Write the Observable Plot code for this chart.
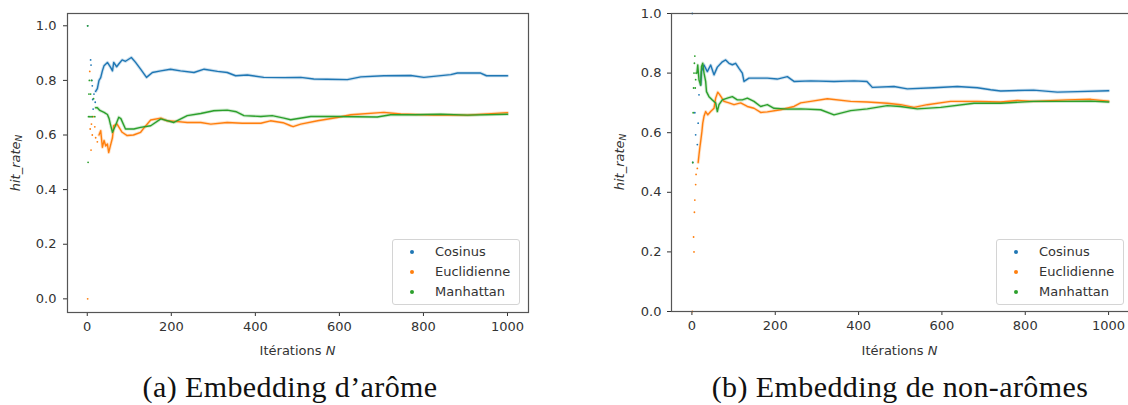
<!DOCTYPE html>
<html>
<head>
<meta charset="utf-8">
<script src="https://cdn.jsdelivr.net/npm/d3@7"></script>
<script src="https://cdn.jsdelivr.net/npm/@observablehq/plot@0.6"></script>
<style>
  html, body { margin: 0; padding: 0; background: #fff; overflow: hidden; }
  #root { position: relative; width: 1128px; height: 405px; overflow: hidden; font-family: "DejaVu Sans", sans-serif; color: #333; }
  .legend { position: absolute; box-sizing: border-box; border: 1px solid #d4d4d4; border-radius: 3px; background: rgba(255,255,255,0.8); }
  .legend .row { position: absolute; left: 0; font-size: 13px; line-height: 13px; color: #333; white-space: nowrap; }
  .legend .dot { position: absolute; width: 4px; height: 4px; border-radius: 50%; }
  .caption { position: absolute; font-family: "Liberation Serif", serif; font-size: 30px; line-height: 30px; letter-spacing: 0.4px; color: #111; white-space: nowrap; transform: translateX(-50%); }
  .xlabel { position: absolute; font-size: 13px; line-height: 13px; transform: translateX(-50%); white-space: nowrap; color: #333; }
  .ylabel { position: absolute; font-size: 13px; line-height: 13px; white-space: nowrap; color: #333; transform: translate(-50%, -50%) rotate(-90deg); }
</style>
</head>
<body>
<div id="root"></div>
<script>
// ---------- data ----------
const seriesNames = ["Cosinus", "Euclidienne", "Manhattan"];
const seriesColors = ["#1f77b4", "#ff7f0e", "#2ca02c"];
const captions = ["(a) Embedding d\u2019arôme", "(b) Embedding de non-arômes"];
const xTicks = [0, 200, 400, 600, 800, 1000];
const yTicks = [0, 0.2, 0.4, 0.6, 0.8, 1.0];

// Panel (a): [N, hit_rate]
const aCosEarly = [[1,1.0],[8,0.875],[9,0.856],[11,0.80],[12,0.78],[13,0.73],[14,0.695],[16,0.75],[19,0.72]];
const aCosTrend = [[20,0.76],[24,0.77],[28,0.80],[32,0.81],[36,0.835],[40,0.854],[48,0.866],[56,0.847],[60,0.835],[63,0.866],[70,0.85],[75,0.86],[83,0.875],[91,0.87],[105,0.884],[115,0.866],[127,0.841],[141,0.811],[155,0.829],[175,0.835],[198,0.841],[222,0.835],[254,0.829],[278,0.841],[310,0.833],[333,0.829],[353,0.817],[381,0.82],[420,0.811],[468,0.81],[508,0.811],[539,0.805],[571,0.804],[619,0.803],[651,0.813],[706,0.817],[770,0.818],[801,0.811],[865,0.821],[881,0.827],[936,0.827],[950,0.817],[1000,0.817]];
const aEucEarly = [[1,0.0],[6,0.833],[7,0.622],[9,0.545],[10,0.64],[12,0.60],[14,0.667],[18,0.63],[20,0.59],[24,0.575]];
const aEucTrend = [[28,0.60],[32,0.616],[36,0.555],[40,0.58],[44,0.56],[48,0.567],[51,0.536],[55,0.56],[60,0.59],[63,0.634],[71,0.64],[83,0.61],[95,0.598],[110,0.60],[127,0.61],[135,0.626],[151,0.655],[175,0.662],[190,0.652],[210,0.65],[238,0.646],[270,0.646],[294,0.64],[333,0.646],[369,0.643],[413,0.643],[436,0.652],[466,0.645],[484,0.634],[490,0.631],[508,0.64],[548,0.652],[595,0.664],[627,0.674],[706,0.683],[746,0.677],[825,0.673],[905,0.673],[1000,0.682]];
const aManEarly = [[1,1.0],[2,0.5],[3,0.667],[4,0.75],[5,0.8],[6,0.667],[8,0.75],[9,0.667],[10,0.8],[12,0.667],[15,0.733],[18,0.667]];
const aManTrend = [[20,0.70],[24,0.70],[30,0.69],[40,0.683],[48,0.675],[52,0.66],[55,0.64],[60,0.61],[67,0.634],[75,0.665],[80,0.66],[91,0.622],[111,0.622],[127,0.628],[151,0.634],[175,0.659],[206,0.646],[238,0.671],[270,0.679],[301,0.689],[333,0.691],[355,0.685],[373,0.671],[413,0.668],[440,0.671],[468,0.662],[484,0.656],[532,0.668],[587,0.668],[690,0.666],[722,0.674],[780,0.674],[841,0.676],[905,0.673],[1000,0.676]];

// Panel (b)
const bCosEarly = [[1,1.0],[2,0.5],[7,0.667],[9,0.593],[13,0.56],[15,0.632],[17,0.727]];
const bCosTrend = [[21,0.76],[23,0.805],[29,0.827],[37,0.805],[45,0.827],[53,0.794],[61,0.82],[73,0.838],[81,0.844],[89,0.833],[97,0.828],[105,0.833],[113,0.816],[121,0.80],[125,0.772],[137,0.783],[157,0.783],[181,0.783],[205,0.78],[229,0.788],[245,0.772],[285,0.774],[341,0.772],[389,0.774],[420,0.772],[433,0.752],[485,0.755],[517,0.747],[581,0.751],[637,0.755],[685,0.751],[717,0.744],[741,0.740],[820,0.743],[877,0.736],[925,0.738],[1000,0.741]];
const bEucEarly = [[1,0.0],[4,0.25],[5,0.2],[6,0.333],[7,0.374],[9,0.426],[10,0.46],[13,0.48]];
const bEucTrend = [[15,0.50],[17,0.526],[19,0.55],[21,0.571],[24,0.604],[26,0.632],[29,0.655],[33,0.671],[38,0.66],[45,0.671],[53,0.682],[57,0.716],[62,0.736],[67,0.727],[77,0.705],[89,0.70],[101,0.694],[117,0.70],[133,0.688],[149,0.682],[165,0.668],[181,0.67],[213,0.677],[245,0.688],[261,0.70],[285,0.705],[325,0.714],[381,0.705],[421,0.703],[469,0.699],[501,0.694],[533,0.685],[565,0.694],[621,0.705],[685,0.705],[741,0.703],[781,0.708],[820,0.705],[901,0.710],[957,0.712],[1000,0.706]];
const bManEarly = [[2,0.5],[3,0.667],[4,0.75],[5,0.8],[6,0.833],[7,0.857],[8,0.75],[9,0.778],[10,0.8]];
const bManTrend = [[12,0.80],[14,0.827],[17,0.777],[21,0.76],[23,0.822],[26,0.833],[29,0.80],[33,0.772],[35,0.738],[41,0.721],[49,0.71],[57,0.70],[61,0.671],[65,0.694],[73,0.71],[85,0.716],[97,0.721],[109,0.71],[121,0.71],[133,0.716],[149,0.705],[165,0.688],[181,0.694],[197,0.682],[229,0.679],[261,0.68],[309,0.677],[341,0.66],[381,0.674],[421,0.68],[469,0.691],[500,0.688],[541,0.68],[597,0.685],[677,0.699],[741,0.699],[820,0.705],[901,0.705],[957,0.706],[1000,0.703]];

// ---------- build ----------
function toRows(pairs, name) { return pairs.map(([n, v]) => ({n, v, s: name})); }

const panels = [
  {
    early: [aCosEarly, aEucEarly, aManEarly],
    trend: [aCosTrend, aEucTrend, aManTrend],
    left: 0, width: 540, mLeft: 67, mRight: 12, mTop: 13, mBottom: 28,
    xDomain: [-47, 1050], yDomain: [-0.05, 1.045], yPad: 7,
    caption: captions[0], capX: 290, plotCx: 297.5, ylabelX: 17, legendX: 392
  },
  {
    early: [bCosEarly, bEucEarly, bManEarly],
    trend: [bCosTrend, bEucTrend, bManTrend],
    left: 600, width: 560, mLeft: 71, mRight: 0, mTop: 13, mBottom: 29,
    xDomain: [-49, 1124.6], yDomain: [0, 1], yPad: 6,
    caption: captions[1], capX: 900, plotCx: 899.5, ylabelX: 621, legendX: 996
  }
];

const root = document.getElementById("root");
const H = 340;

for (const p of panels) {
  const early = p.early.flatMap((arr, i) => toRows(arr, seriesNames[i]));
  const trendRows = p.trend.flatMap((arr, i) => toRows(arr, seriesNames[i]));
  const chart = Plot.plot({
    width: p.width, height: H,
    marginLeft: p.mLeft, marginRight: p.mRight, marginTop: p.mTop, marginBottom: p.mBottom,
    style: {fontFamily: "DejaVu Sans, sans-serif", fontSize: "13px", color: "#333", background: "transparent", maxWidth: "none"},
    x: {domain: p.xDomain, ticks: xTicks, tickSize: 4, tickPadding: 5, label: null, tickFormat: d3.format("d")},
    y: {domain: p.yDomain, ticks: yTicks, tickSize: 4, tickPadding: p.yPad, label: null, tickFormat: d3.format(".1f")},
    color: {domain: seriesNames, range: seriesColors},
    marks: [
      Plot.line(trendRows, {x: "n", y: "v", z: "s", stroke: "s", strokeWidth: 3.2, strokeOpacity: 0.22, strokeLinejoin: "round"}),
      Plot.line(trendRows, {x: "n", y: "v", z: "s", stroke: "s", strokeWidth: 1.4, strokeLinejoin: "round"}),
      Plot.dot(early, {x: "n", y: "v", fill: "s", r: 0.9}),
      Plot.frame({stroke: "#555", strokeWidth: 1.2})
    ]
  });
  chart.style.position = "absolute";
  chart.style.left = p.left + "px";
  chart.style.top = "0px";
  root.appendChild(chart);

  const plotCy = p.mTop + (H - p.mTop - p.mBottom) / 2;

  // x label
  const xl = document.createElement("div");
  xl.className = "xlabel";
  xl.style.left = p.plotCx + "px";
  xl.style.top = "344px";
  xl.innerHTML = "Itérations <i>N</i>";
  root.appendChild(xl);

  // y label
  const yl = document.createElement("div");
  yl.className = "ylabel";
  yl.style.left = p.ylabelX + "px";
  yl.style.top = plotCy + "px";
  yl.innerHTML = "<i>hit_rate</i><sub style=\"font-size:9px;font-style:italic;vertical-align:-2px\">N</sub>";
  root.appendChild(yl);

  // legend
  const lg = document.createElement("div");
  lg.className = "legend";
  lg.style.left = p.legendX + "px";
  lg.style.top = "239px";
  lg.style.width = "128px";
  lg.style.height = "66px";
  const rowY = [12, 32, 52];
  seriesNames.forEach((name, i) => {
    const d = document.createElement("div");
    d.className = "dot";
    d.style.background = seriesColors[i];
    d.style.left = "17px";
    d.style.top = (rowY[i] - 2) + "px";
    lg.appendChild(d);
    const t = document.createElement("div");
    t.className = "row";
    t.style.left = "42px";
    t.style.top = (rowY[i] - 7) + "px";
    t.textContent = name;
    lg.appendChild(t);
  });
  root.appendChild(lg);

  // caption
  const cp = document.createElement("div");
  cp.className = "caption";
  cp.style.left = p.capX + "px";
  cp.style.top = "372px";
  cp.textContent = p.caption;
  root.appendChild(cp);
}
</script>
</body>
</html>
